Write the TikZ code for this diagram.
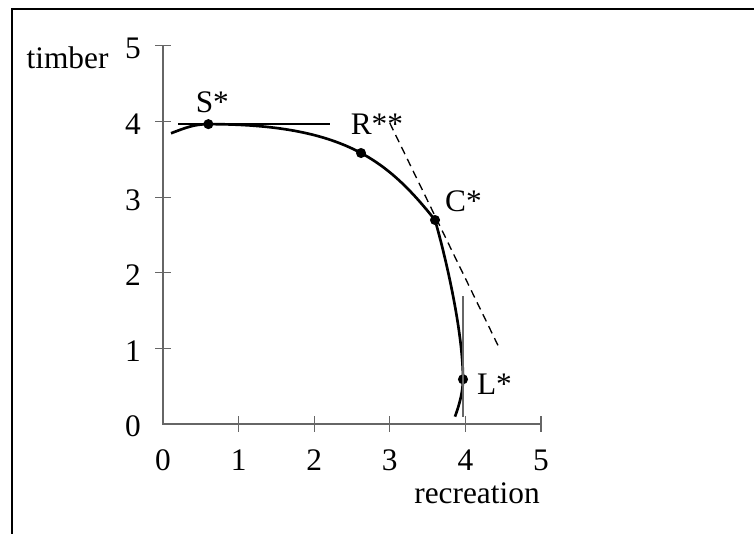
\documentclass[tikz,border=0pt]{standalone}
\usepackage{fontspec}
\setmainfont{Liberation Serif}
\usetikzlibrary{positioning}

\begin{document}
\begin{tikzpicture}[x=1cm, y=1cm, font=\fontsize{11.8}{14}\selectfont,
    dot/.style={circle, fill, inner sep=0pt, minimum size=3.8pt},
    lbl/.style={inner sep=1pt},
    axis/.style={black!60, line width=0.4pt}]

    \useasboundingbox (-2.156,-1.455) rectangle (7.817,5.608);
    \draw[line width=0.9pt] (-1.995,-1.6) -- (-1.995,5.485) -- (8,5.485);

    % axes and ticks
    \coordinate (O) at (0,0);
    \draw[axis] (0,5) -- (O) -- (5,0);
    \foreach \k in {1,...,5} {
      \draw[axis] ([xshift=-3pt]0,\k) -- ([xshift=3pt]0,\k);
      \draw[axis] ([yshift=-3pt]\k,0) -- ([yshift=3pt]\k,0);
    }
    \foreach \k in {0,...,5} {
      \node[lbl, anchor=east] (y\k) at ([xshift=-7.2pt, yshift=-1pt]0,\k) {\k};
      \node[lbl, anchor=north] (x\k) at ([yshift=-8.4pt]\k,0) {\k};
    }
    \node[anchor=base] (tim) at (-1.263,4.705) {timber};
    \node[anchor=base] (rec) at (4.153,-1.052) {recreation};

    % frontier
    \coordinate (S) at (0.6,3.966);
    \coordinate (R) at (2.619,3.584);
    \coordinate (C) at (3.598,2.698);
    \coordinate (L) at (3.968,0.591);
    \draw[line width=1pt] (0.106,3.845) .. controls (0.3,3.92) and (0.42,3.966) .. (S)
      .. controls (2.4,3.966) and (2.973,3.479) .. (C)
      .. controls (3.762,2.121) and (3.968,1.191) .. (L)
      .. controls (3.968,0.45) and (3.93,0.28) .. (3.862,0.097);

    \foreach \p in {S,R,C,L}
      \node[dot] (d\p) at (\p) {};

    \node[lbl, above=0.8pt of dS, xshift=1.5pt] {S*};
    \node[lbl, above=3.8pt of dR, xshift=6pt] {R**};
    \node[lbl, above right=0.4pt and 1.1pt of dC] {C*};
    \node[lbl, right=2pt of dL, yshift=-1.9pt] {L*};

    % tangents
    \draw[line width=0.5pt] ([xshift=-0.4cm]S) -- ([xshift=1.61cm]S);
    \draw[black!60, line width=0.5pt] ([yshift=1.1cm]L) -- ([yshift=-0.5cm]L);
    \draw[dash pattern=on 3pt off 2pt, line width=0.5pt] (3.0,3.98) -- (4.45,1.0);
\end{tikzpicture}
\end{document}
